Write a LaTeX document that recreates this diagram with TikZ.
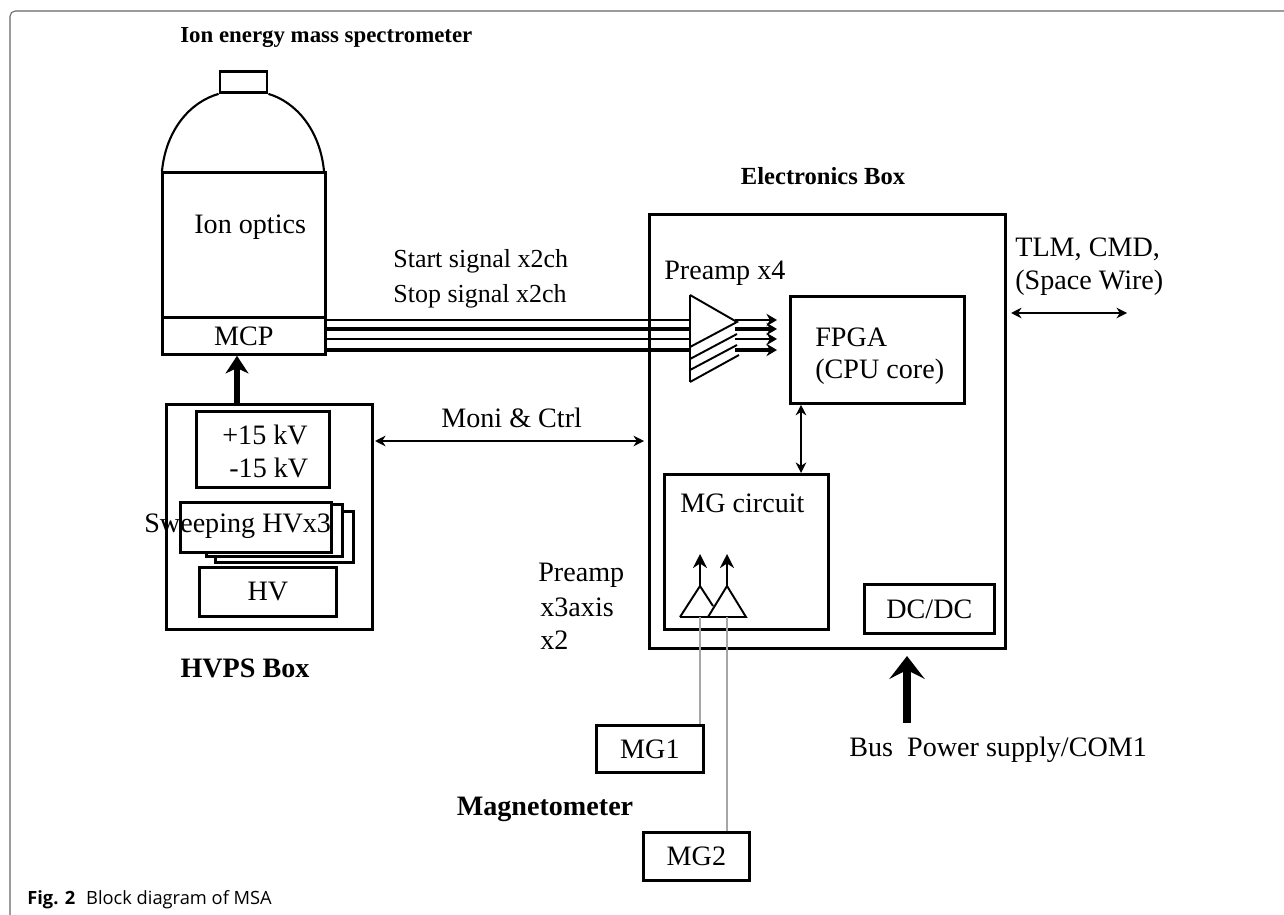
\documentclass[tikz,border=0pt]{standalone}
\usepackage{fontspec}
\setmainfont{Liberation Serif}
\newfontfamily\capfont{Open Sans}
\usetikzlibrary{arrows.meta}

\begin{document}
\begin{tikzpicture}[x=.02cm,y=-.02cm,
    blockbox/.style={draw,line width=1.6pt,inner sep=0pt,fill=white,font=\fontsize{16}{18}\selectfont},
    boldlabel/.style={font=\fontsize{16}{18}\selectfont\bfseries,inner sep=0pt},
    plainlabel/.style={font=\fontsize{16}{18}\selectfont,inner sep=0pt,anchor=west},
    ampline/.style={line width=1.1pt},
    biarrow/.style={line width=.9pt,{Stealth[length=6pt,width=6pt]}-{Stealth[length=6pt,width=6pt]}},
    bigarrow/.style={line width=3.5pt,-{Stealth[length=10pt,width=13pt,inset=3pt]}},
    busarrow/.style={line width=5pt,-{Stealth[length=13pt,width=20pt,inset=5pt]}},
    probeline/.style={gray!70,line width=1.1pt}]
  \useasboundingbox (0,0) rectangle (1284,915);

  % page frame and caption
  \draw[gray!80!black,line width=.6pt,rounded corners=3pt] (1284,11) -- (10,11) -- (10,915);
  \node[anchor=west,inner sep=0pt,font=\capfont\fontsize{10.4}{12}\selectfont] (caption) at (27,900)
    {\textbf{Fig. 2}\hspace{.6em}Block diagram of MSA};

  % spectrometer
  \node[boldlabel,anchor=west,font=\fontsize{13}{15}\selectfont\bfseries] (specname) at (180,38) {Ion energy mass spectrometer};
  \node[blockbox,minimum width=.94cm,minimum height=.42cm] (cap) at (243.5,82) {};
  \draw[line width=1.2pt] (162,171) .. controls (166,130) and (190,102) .. (cap.south west);
  \draw[line width=1.2pt] (324,171) .. controls (320,130) and (296,102) .. (cap.south east);
  \node[blockbox,minimum width=3.26cm,minimum height=3.64cm,anchor=north west] (optics) at (161,171) {};
  \node[plainlabel] (opticsname) at (194,227) {Ion optics};
  \node[blockbox,minimum width=3.26cm,minimum height=.74cm,anchor=north west] (mcp) at (161,316) {MCP};

  % HVPS box
  \node[blockbox,minimum width=4.12cm,minimum height=4.5cm,anchor=north west] (hvps) at (165,403) {};
  \node[boldlabel] (hvpsname) at (245,668) {HVPS Box};
  \node[blockbox,line width=1.9pt,minimum width=2.66cm,minimum height=1.52cm,anchor=north west] (kv) at (195,410) {};
  \node[plainlabel] (kvplus) at (222,435) {+15 kV};
  \node[plainlabel] (kvminus) at (229,468) {-15 kV};
  \node[blockbox,minimum width=2.76cm,minimum height=1.02cm,anchor=north west] (swc) at (214,510) {};
  \node[blockbox,minimum width=2.72cm,minimum height=1.04cm,anchor=north west] (swb) at (205,503) {};
  \node[blockbox,minimum width=3.02cm,minimum height=1cm,anchor=north west] (swa) at (179,501) {};
  \node[plainlabel] (swname) at (144,526) {Sweeping HVx3};
  \node[blockbox,minimum width=2.74cm,minimum height=.98cm,anchor=north west] (hv) at (198,566) {HV};
  \draw[bigarrow] (hvps.north -| 237,0) -- (mcp.south -| 237,0);

  % electronics box
  \node[boldlabel,font=\fontsize{14}{16}\selectfont\bfseries] (elecname) at (823,176) {Electronics Box};
  \node[blockbox,fill=none,minimum width=7.12cm,minimum height=8.68cm,anchor=north west] (elec) at (648,213) {};
  \node[blockbox,minimum width=3.48cm,minimum height=2.14cm,anchor=north west] (fpga) at (789,295) {};
  \node[plainlabel] (fpganame) at (815,337) {FPGA};
  \node[plainlabel] (cpuname) at (815,372) {(CPU core)};
  \node[blockbox,line width=1.9pt,minimum width=3.28cm,minimum height=3.1cm,anchor=north west] (mgc) at (663,473) {};
  \node[plainlabel] (mgcname) at (680,503) {MG circuit};
  \node[blockbox,minimum width=2.6cm,minimum height=.98cm,anchor=north west] (dcdc) at (863,583) {DC/DC};

  % signal lines and preamp
  \node[plainlabel,font=\fontsize{14.8}{17}\selectfont] (startname) at (393,261) {Start signal x2ch};
  \node[plainlabel,font=\fontsize{14.8}{17}\selectfont] (stopname) at (393,296) {Stop signal x2ch};
  \node[plainlabel] (preampname) at (664,273) {Preamp x4};
  \foreach \i/\y/\w in {1/320/1.1pt,2/329/2pt,3/339/1.4pt,4/350/2pt} {
    \coordinate (sl\i) at (324,\y);
    \coordinate (sm\i) at (690,\y);
    \coordinate (tp\i) at (735,\y);
    \coordinate (sr\i) at (777,\y);
    \draw[line width=\w] (sl\i) -- (sm\i);
    \draw[line width=\w,-{Stealth[length=6pt,width=7pt]}] (tp\i) -- (sr\i);
  }
  \coordinate (ampa) at (690,295);
  \coordinate (ampb) at (690,382);
  \coordinate (ampc) at (737,322);
  \draw[ampline] (ampa) -- (ampb);
  \draw[ampline] (ampa) -- (ampc) -- (690,347);
  \draw[ampline] (690,359) -- (737,334);
  \draw[ampline] (690,370) -- (737,345);
  \draw[ampline] (ampb) -- (739,355);

  % MG preamps
  \node[plainlabel] (mgpname) at (538,575) {Preamp};
  \node[plainlabel] (mgpaxis) at (540,607) {x3axis};
  \node[plainlabel] (mgptwo) at (540,640) {x2};
  \coordinate (aa) at (700,586);
  \coordinate (ab) at (727,586);
  \coordinate (ba) at (700,617);
  \coordinate (bb) at (727,617);
  \draw[ampline] (680,617) -- (aa) -- (713,606);
  \draw[ampline] (708,617) -- (ab) -- (746,617) -- cycle;
  \draw[ampline] (680,617) -- (708,617);
  \draw[ampline,-{Stealth[length=8pt,width=8pt]}] (aa) -- (700,554);
  \draw[ampline,-{Stealth[length=8pt,width=8pt]}] (ab) -- (727,554);
  \node[blockbox,minimum width=2.14cm,minimum height=.94cm,anchor=north west] (mga) at (595,724) {MG1};
  \node[blockbox,minimum width=2.12cm,minimum height=.96cm,anchor=north west] (mgb) at (642,831) {MG2};
  \node[boldlabel] (magname) at (545,809) {Magnetometer};
  \draw[probeline] (ba) -- (mga.north -| ba);
  \draw[probeline] (bb) -- (mgb.north -| bb);

  % other connectors
  \node[plainlabel] (moniname) at (441,418) {Moni \& Ctrl};
  \coordinate (monia) at (375,441);
  \coordinate (monib) at (644,441);
  \draw[biarrow] (monia) -- (monib);
  \draw[biarrow] (fpga.south -| 801,0) -- (mgc.north -| 801,0);
  \node[plainlabel] (tlmname) at (1015,249) {TLM, CMD,};
  \node[plainlabel] (wirename) at (1015,283) {(Space Wire)};
  \coordinate (tlma) at (1011,313);
  \coordinate (tlmb) at (1127,313);
  \draw[biarrow] (tlma) -- (tlmb);
  \node[plainlabel] (busname) at (849,750) {Bus\hspace{.5em}Power supply/COM1};
  \coordinate (busa) at (907,723);
  \coordinate (busb) at (907,656);
  \draw[busarrow] (busa) -- (busb);
\end{tikzpicture}
\end{document}
